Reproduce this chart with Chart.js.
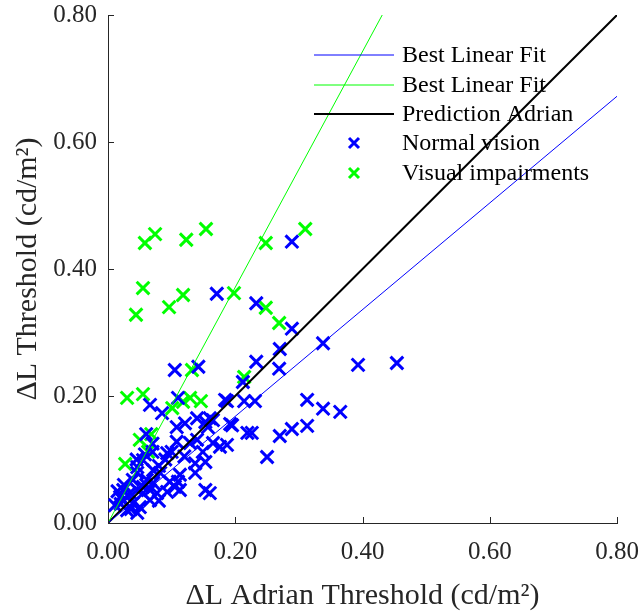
<!DOCTYPE html>
<html>
<head>
<meta charset="utf-8">
<script src="https://cdn.jsdelivr.net/npm/chart.js@4.4.1/dist/chart.umd.min.js"></script>
<style>
  html, body { margin: 0; padding: 0; background: #ffffff; }
  #wrap { width: 641px; height: 611px; }
</style>
</head>
<body>
<div id="wrap"><canvas id="thresholdChart" width="641" height="611"></canvas></div>
<script>
// Normal vision (blue crosses)
const normalX = [
  0.289, 0.171, 0.233, 0.289, 0.270, 0.338, 0.233, 0.269, 0.393, 0.454,
  0.105, 0.142, 0.212, 0.313, 0.338, 0.365, 0.187, 0.214, 0.231, 0.066,
  0.085, 0.110, 0.184, 0.160, 0.192, 0.219, 0.226, 0.270, 0.289, 0.313,
  0.250, 0.153, 0.165, 0.176, 0.187, 0.153, 0.153, 0.160, 0.121, 0.140,
  0.165, 0.108, 0.129, 0.140, 0.149, 0.093, 0.137, 0.055, 0.046, 0.071,
  0.082, 0.113, 0.137, 0.061, 0.097, 0.110, 0.105, 0.113, 0.093, 0.024,
  0.035, 0.046, 0.055, 0.066, 0.077, 0.024, 0.039, 0.050, 0.066, 0.030,
  0.046, 0.055, 0.039, 0.046, 0.071, 0.195, 0.108, 0.157, 0.019, 0.011,
  0.020, 0.031, 0.060, 0.080, 0.090, 0.100, 0.045, 0.058, 0.120, 0.070,
  0.036, 0.080, 0.060, 0.070, 0.015, 0.025
];
const normalY = [
  0.443, 0.361, 0.346, 0.306, 0.274, 0.283, 0.254, 0.243, 0.249, 0.252,
  0.241, 0.246, 0.222, 0.194, 0.180, 0.175, 0.192, 0.192, 0.192, 0.186,
  0.173, 0.197, 0.194, 0.165, 0.156, 0.142, 0.142, 0.137, 0.148, 0.153,
  0.104, 0.159, 0.126, 0.120, 0.123, 0.096, 0.052, 0.047, 0.157, 0.165,
  0.162, 0.128, 0.126, 0.131, 0.112, 0.110, 0.094, 0.099, 0.088, 0.083,
  0.079, 0.076, 0.079, 0.068, 0.065, 0.065, 0.057, 0.052, 0.049, 0.052,
  0.047, 0.052, 0.047, 0.052, 0.047, 0.036, 0.031, 0.025, 0.036, 0.020,
  0.016, 0.057, 0.068, 0.079, 0.063, 0.154, 0.151, 0.151, 0.041, 0.028,
  0.030, 0.044, 0.060, 0.090, 0.100, 0.112, 0.100, 0.108, 0.105, 0.112,
  0.022, 0.035, 0.140, 0.125, 0.050, 0.060
];

// Visual impairments (green crosses)
const impairedX = [
  0.058, 0.074, 0.123, 0.154, 0.248, 0.310, 0.055, 0.096, 0.118, 0.198,
  0.248, 0.044, 0.269, 0.132, 0.214, 0.030, 0.055, 0.101, 0.118, 0.129,
  0.146, 0.050, 0.068, 0.063, 0.027
];
const impairedY = [
  0.441, 0.455, 0.446, 0.463, 0.441, 0.463, 0.370, 0.340, 0.359, 0.362,
  0.339, 0.328, 0.315, 0.241, 0.230, 0.197, 0.203, 0.181, 0.191, 0.197,
  0.192, 0.131, 0.140, 0.112, 0.093
];

// fitted lines (end points)
const fitNormalX = [0, 0.80];
const fitNormalY = [0, 0.672];
const fitImpairedX = [0, 0.431];
const fitImpairedY = [0, 0.80];
const predictionX = [0, 0.80];
const predictionY = [0, 0.80];

const tickValues = [0.00, 0.20, 0.40, 0.60, 0.80];

const legendLabels = ['Best Linear Fit', 'Best Linear Fit', 'Prediction Adrian', 'Normal vision', 'Visual impairments'];

function toPoints(xs, ys) {
    return xs.map((x, i) => ({ x: x, y: ys[i] }));
}

const SERIF = '"Liberation Serif", "Times New Roman", serif';
const TEXT = '#262626';

// inward tick marks
const inwardTicks = {
    id: 'inwardTicks',
    afterDraw(chart) {
        const ctx = chart.ctx;
        const xs = chart.scales.x, ys = chart.scales.y;
        const a = chart.chartArea;
        ctx.save();
        ctx.strokeStyle = TEXT;
        ctx.lineWidth = 1;
        ctx.beginPath();
        tickValues.forEach(v => {
            const py = Math.round(ys.getPixelForValue(v)) + 0.5;
            ctx.moveTo(a.left, py);
            ctx.lineTo(a.left + 6, py);
            const px = Math.round(xs.getPixelForValue(v)) + 0.5;
            ctx.moveTo(px, a.bottom);
            ctx.lineTo(px, a.bottom - 6);
        });
        ctx.stroke();
        ctx.restore();
    }
};

// legend drawn like the MATLAB one
const plotLegend = {
    id: 'plotLegend',
    afterDraw(chart) {
        const ctx = chart.ctx;
        const a = chart.chartArea;
        const x0 = a.left + 206, x1 = a.left + 286, tx = a.left + 294;
        const rowY = [a.top + 40, a.top + 70, a.top + 99, a.top + 128, a.top + 158];
        const kinds = [
            { type: 'line', color: '#0000ff', width: 1 },
            { type: 'line', color: '#00ff00', width: 1 },
            { type: 'line', color: '#000000', width: 2 },
            { type: 'mark', color: '#0000ff' },
            { type: 'mark', color: '#00ff00' }
        ];
        ctx.save();
        kinds.forEach((k, i) => {
            const y = rowY[i];
            if (k.type === 'line') {
                ctx.strokeStyle = k.color;
                ctx.lineWidth = k.width;
                ctx.beginPath();
                ctx.moveTo(x0, y);
                ctx.lineTo(x1, y);
                ctx.stroke();
            } else {
                const cx = (x0 + x1) / 2, r = 5;
                ctx.strokeStyle = k.color;
                ctx.lineWidth = 3;
                ctx.beginPath();
                ctx.moveTo(cx - r, y - r); ctx.lineTo(cx + r, y + r);
                ctx.moveTo(cx - r, y + r); ctx.lineTo(cx + r, y - r);
                ctx.stroke();
            }
            ctx.fillStyle = '#000000';
            ctx.font = '24px ' + SERIF;
            ctx.textBaseline = 'middle';
            ctx.textAlign = 'left';
            ctx.fillText(legendLabels[i], tx, y + 1);
        });
        ctx.restore();
    }
};

const ctx = document.getElementById('thresholdChart').getContext('2d');
const myChart = new Chart(ctx, {
    type: 'scatter',
    data: {
        datasets: [
            {
                type: 'line',
                label: 'Best Linear Fit',
                data: toPoints(fitNormalX, fitNormalY),
                borderColor: '#0000ff',
                borderWidth: 1,
                pointRadius: 0,
                fill: false
            },
            {
                type: 'line',
                label: 'Best Linear Fit',
                data: toPoints(fitImpairedX, fitImpairedY),
                borderColor: '#00ff00',
                borderWidth: 1,
                pointRadius: 0,
                fill: false
            },
            {
                type: 'line',
                label: 'Prediction Adrian',
                data: toPoints(predictionX, predictionY),
                borderColor: '#000000',
                borderWidth: 2,
                pointRadius: 0,
                fill: false
            },
            {
                label: 'Normal vision',
                data: toPoints(normalX, normalY),
                pointStyle: 'crossRot',
                pointRadius: 9,
                borderColor: '#0000ff',
                backgroundColor: '#0000ff',
                borderWidth: 3
            },
            {
                label: 'Visual impairments',
                data: toPoints(impairedX, impairedY),
                pointStyle: 'crossRot',
                pointRadius: 9,
                borderColor: '#00ff00',
                backgroundColor: '#00ff00',
                borderWidth: 3
            }
        ]
    },
    options: {
        responsive: false,
        maintainAspectRatio: false,
        animation: false,
        layout: { padding: 0 },
        plugins: {
            legend: { display: false },
            tooltip: { enabled: false }
        },
        scales: {
            x: {
                type: 'linear',
                min: 0,
                max: 0.8,
                afterBuildTicks: (scale) => { scale.ticks = tickValues.map(v => ({ value: v })); },
                afterFit: (scale) => {
                    scale.height = 88;
                    scale.paddingLeft = 0;
                    scale.paddingRight = 24;
                },
                grid: { display: false, drawTicks: false },
                border: { display: true, color: TEXT, width: 1 },
                ticks: {
                    padding: 14,
                    color: TEXT,
                    font: { family: SERIF, size: 25 },
                    maxRotation: 0,
                    callback: (v) => Number(v).toFixed(2)
                },
                title: {
                    display: true,
                    text: 'ΔL Adrian Threshold (cd/m²)',
                    color: TEXT,
                    font: { family: SERIF, size: 30 },
                    padding: { top: 0, bottom: -3 }
                }
            },
            y: {
                type: 'linear',
                min: 0,
                max: 0.8,
                afterBuildTicks: (scale) => { scale.ticks = tickValues.map(v => ({ value: v })); },
                afterFit: (scale) => {
                    scale.width = 108;
                    scale.paddingTop = 15;
                    scale.paddingBottom = 0;
                },
                grid: { display: false, drawTicks: false },
                border: { display: true, color: TEXT, width: 1 },
                ticks: {
                    padding: 11,
                    color: TEXT,
                    font: { family: SERIF, size: 25 },
                    callback: (v) => Number(v).toFixed(2)
                },
                title: {
                    display: true,
                    text: 'ΔL Threshold (cd/m²)',
                    color: TEXT,
                    font: { family: SERIF, size: 30 },
                    padding: { top: 10, bottom: 0 }
                }
            }
        }
    },
    plugins: [inwardTicks, plotLegend]
});
</script>
</body>
</html>
